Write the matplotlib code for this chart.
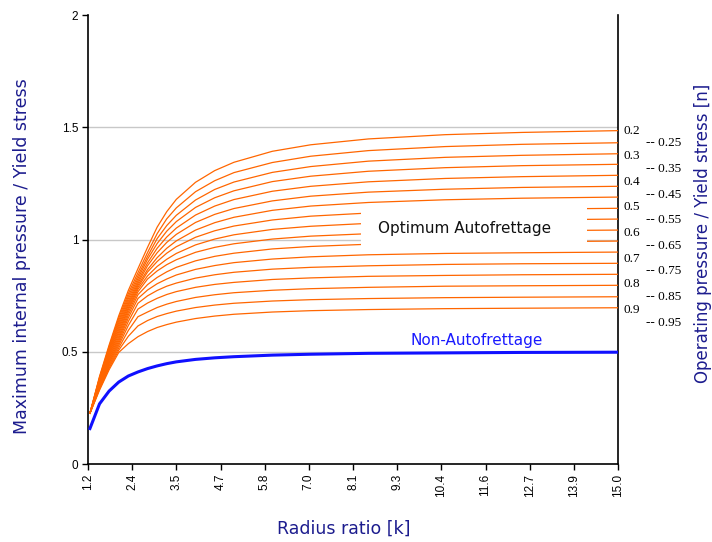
import matplotlib
matplotlib.use("Agg")
import matplotlib.pyplot as plt
from matplotlib.patches import Rectangle

# radius ratio sample points
k = [1.25, 1.5, 1.75, 2.0, 2.25, 2.5, 2.75, 3.0, 3.25, 3.5, 4.0, 4.5, 5.0, 6.0, 7.0, 8.5, 10.5, 12.5, 15.0]

# optimum autofrettage curves, top to bottom
af01 = [0.226, 0.390, 0.530, 0.660, 0.773, 0.870, 0.965, 1.055, 1.124, 1.179, 1.255, 1.307, 1.344, 1.393, 1.422, 1.448, 1.467, 1.477, 1.485]
af02 = [0.226, 0.386, 0.523, 0.650, 0.759, 0.852, 0.942, 1.026, 1.092, 1.141, 1.213, 1.262, 1.298, 1.343, 1.371, 1.396, 1.414, 1.424, 1.431]
af03 = [0.226, 0.382, 0.516, 0.639, 0.747, 0.838, 0.925, 1.004, 1.062, 1.108, 1.176, 1.223, 1.256, 1.299, 1.325, 1.349, 1.366, 1.375, 1.382]
af04 = [0.226, 0.379, 0.509, 0.629, 0.736, 0.826, 0.912, 0.982, 1.037, 1.080, 1.143, 1.186, 1.217, 1.258, 1.282, 1.304, 1.320, 1.329, 1.335]
af05 = [0.226, 0.375, 0.503, 0.619, 0.725, 0.815, 0.896, 0.961, 1.011, 1.051, 1.109, 1.149, 1.178, 1.215, 1.237, 1.257, 1.272, 1.280, 1.286]
af06 = [0.226, 0.371, 0.496, 0.609, 0.715, 0.805, 0.883, 0.941, 0.987, 1.023, 1.076, 1.112, 1.138, 1.172, 1.193, 1.211, 1.224, 1.232, 1.237]
af07 = [0.226, 0.367, 0.489, 0.599, 0.706, 0.796, 0.866, 0.919, 0.961, 0.994, 1.042, 1.075, 1.099, 1.130, 1.149, 1.165, 1.177, 1.184, 1.189]
af08 = [0.226, 0.363, 0.482, 0.589, 0.696, 0.787, 0.855, 0.902, 0.939, 0.968, 1.010, 1.039, 1.060, 1.087, 1.104, 1.118, 1.129, 1.135, 1.139]
af09 = [0.226, 0.360, 0.475, 0.579, 0.687, 0.778, 0.838, 0.880, 0.912, 0.938, 0.976, 1.002, 1.021, 1.045, 1.059, 1.072, 1.082, 1.087, 1.091]
af10 = [0.226, 0.356, 0.468, 0.568, 0.676, 0.767, 0.824, 0.860, 0.888, 0.910, 0.943, 0.965, 0.981, 1.002, 1.015, 1.026, 1.034, 1.039, 1.042]
af11 = [0.226, 0.352, 0.461, 0.558, 0.664, 0.754, 0.799, 0.831, 0.856, 0.876, 0.905, 0.925, 0.939, 0.958, 0.969, 0.979, 0.986, 0.990, 0.993]
af12 = [0.226, 0.348, 0.454, 0.548, 0.651, 0.737, 0.775, 0.803, 0.824, 0.842, 0.867, 0.884, 0.897, 0.913, 0.923, 0.932, 0.938, 0.941, 0.944]
af13 = [0.226, 0.344, 0.448, 0.538, 0.635, 0.716, 0.749, 0.773, 0.792, 0.806, 0.828, 0.843, 0.854, 0.868, 0.876, 0.883, 0.889, 0.892, 0.894]
af14 = [0.226, 0.340, 0.441, 0.528, 0.617, 0.690, 0.717, 0.738, 0.755, 0.768, 0.787, 0.800, 0.809, 0.822, 0.829, 0.836, 0.840, 0.843, 0.845]
af15 = [0.226, 0.337, 0.434, 0.517, 0.595, 0.656, 0.677, 0.697, 0.712, 0.724, 0.742, 0.754, 0.763, 0.774, 0.781, 0.787, 0.792, 0.794, 0.796]
af16 = [0.226, 0.333, 0.427, 0.507, 0.569, 0.615, 0.639, 0.657, 0.670, 0.681, 0.697, 0.708, 0.716, 0.726, 0.732, 0.737, 0.741, 0.743, 0.745]
af17 = [0.226, 0.329, 0.420, 0.497, 0.536, 0.567, 0.590, 0.608, 0.621, 0.632, 0.648, 0.659, 0.667, 0.677, 0.683, 0.688, 0.692, 0.694, 0.696]

# non-autofrettage curve
non_af = [0.158, 0.268, 0.325, 0.365, 0.392, 0.410, 0.425, 0.437, 0.447, 0.455, 0.466, 0.473, 0.478, 0.485, 0.489, 0.493, 0.495, 0.497, 0.498]

x_ticks = [1.2, 2.35, 3.5, 4.65, 5.8, 6.95, 8.1, 9.25, 10.4, 11.55, 12.7, 13.85, 15.0]
x_tick_labels = ["1.2", "2.4", "3.5", "4.7", "5.8", "7.0", "8.1", "9.3", "10.4", "11.6", "12.7", "13.9", "15.0"]

n_labels = ["0.2", "-- 0.25", "0.3", "-- 0.35", "0.4", "-- 0.45", "0.5", "-- 0.55",
            "0.6", "-- 0.65", "0.7", "-- 0.75", "0.8", "-- 0.85", "0.9", "-- 0.95"]

curves = [af01, af02, af03, af04, af05, af06, af07, af08, af09,
          af10, af11, af12, af13, af14, af15, af16, af17]

navy = "#1c1c8e"
orange = "#ff6600"

fig = plt.figure(figsize=(7.12, 5.42), dpi=100)
ax = fig.add_axes([0.1236, 0.1439, 0.7444, 0.8284])

for c in curves:
    ax.plot(k, c, color=orange, lw=0.9, zorder=3)
ax.plot(k, non_af, color="#1010ff", lw=2.2, zorder=4)

for g in [0.5, 1.0, 1.5]:
    ax.axhline(g, color="#c8c8c8", lw=1.0, zorder=1)

# white box behind the label
ax.add_patch(Rectangle((8.31, 0.971), 5.88, 0.183, facecolor="white",
                       edgecolor="none", zorder=5))
ax.text(8.75, 1.047, "Optimum Autofrettage", fontsize=11, color="#111111",
        va="center", ha="left", zorder=6)
ax.text(9.6, 0.552, "Non-Autofrettage", fontsize=11, color="#1a1aff",
        va="center", ha="left", zorder=6)

ax.set_xlim(1.2, 15.0)
ax.set_ylim(0, 2)
ax.set_xticks(x_ticks)
ax.set_xticklabels(x_tick_labels, rotation=90, fontsize=8.5, family="Liberation Sans")
ax.set_yticks([0, 0.5, 1, 1.5, 2])
ax.set_yticklabels(["0", "0.5", "1", "1.5", "2"], fontsize=8.5, family="Liberation Sans")
ax.tick_params(direction="out", length=4, width=1, pad=3)
ax.spines["top"].set_visible(False)
for s in ["left", "bottom", "right"]:
    ax.spines[s].set_linewidth(1.2)

# right-hand n labels
for i, lab in enumerate(n_labels):
    yv = 1.485 - i * 0.057
    xoff = 1.011 if i % 2 == 0 else 1.053
    ax.text(xoff, yv, lab, transform=ax.get_yaxis_transform(), fontsize=9.5,
            family="Liberation Serif", va="center", ha="left")

fig.text(0.031, 0.527, "Maximum internal pressure / Yield stress", rotation=90,
         fontsize=12.5, color=navy, va="center", ha="center")
fig.text(0.988, 0.57, "Operating pressure / Yield stress [n]", rotation=90,
         fontsize=12, color=navy, va="center", ha="center")
fig.text(0.483, 0.025, "Radius ratio [k]", fontsize=12.5, color=navy,
         va="center", ha="center")

fig.savefig("out.png", dpi=100)
